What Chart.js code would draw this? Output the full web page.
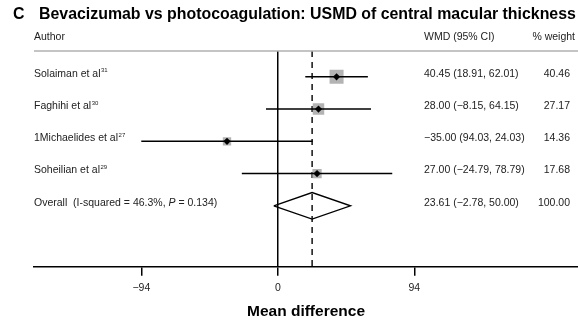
<!DOCTYPE html>
<html>
<head>
<meta charset="utf-8">
<script src="https://cdn.jsdelivr.net/npm/chart.js@4"></script>
<style>
  html, body { margin: 0; padding: 0; background: #fff; }
  canvas { display: block; }
</style>
</head>
<body>
<canvas id="forest" width="578" height="322"></canvas>
<script>
// Forest plot values.
const authors = ['Solaiman et al', 'Faghihi et al', '1Michaelides et al', 'Soheilian et al'];
const refNumbers = ['31', '30', '27', '29'];
const estimates = [40.45, 28.00, -35.00, 27.00];
const ciLow = [18.91, -8.15, -94.03, -24.79];
const ciHigh = [62.01, 64.15, 24.03, 78.79];
const ciText = ['40.45 (18.91, 62.01)', '28.00 (\u22128.15, 64.15)', '\u221235.00 (94.03, 24.03)', '27.00 (\u221224.79, 78.79)'];
const weights = [40.46, 27.17, 14.36, 17.68];

const overallLabel = 'Overall  (I-squared = 46.3%, ';
const overallP = '0.134';
const overallEst = 23.61;
const overallLow = -2.78;
const overallHigh = 50.00;
const overallText = '23.61 (\u22122.78, 50.00)';
const overallWeight = '100.00';

const xTicks = [-94, 0, 94];

const FONT = "'Liberation Sans', Arial, Helvetica, sans-serif";
Chart.defaults.font.family = FONT;

const Y_MIN = 0.2;
const Y_MAX = 6.89;
const overallRow = authors.length + 1;

// box area scales with study weight
function boxRadius(w) {
  return (2.2 * Math.sqrt(w)) / Math.SQRT2;
}

function minus(v) {
  return v < 0 ? '\u2212' + Math.abs(v) : String(v);
}

const ciDatasets = authors.map((name, i) => ({
  label: name,
  data: [{ x: ciLow[i], y: i + 1 }, { x: ciHigh[i], y: i + 1 }],
  showLine: true,
  borderColor: '#000',
  borderWidth: 1.5,
  pointRadius: 0,
  order: 2,
}));

// Text columns, header, divider -- not something Chart.js draws by itself.
const tablePlugin = {
  id: 'forestTable',
  afterDraw(chart) {
    const { ctx, chartArea, scales } = chart;
    const y = scales.y;
    ctx.save();

    ctx.fillStyle = '#000';
    ctx.textBaseline = 'alphabetic';
    ctx.font = `bold 15.9px ${FONT}`;
    ctx.textAlign = 'left';
    ctx.fillText('C', 13, 18.5);
    ctx.fillText('Bevacizumab vs photocoagulation: USMD of central macular thickness', 39, 18.5);

    ctx.textBaseline = 'middle';
    ctx.fillStyle = '#222';
    ctx.font = `10.5px ${FONT}`;
    ctx.fillText('Author', 34, 37);
    ctx.fillText('WMD (95% CI)', 424, 37);
    ctx.textAlign = 'right';
    ctx.fillText('% weight', 575, 37);

    ctx.strokeStyle = '#b0b0b0';
    ctx.lineWidth = 1.5;
    ctx.beginPath();
    ctx.moveTo(chartArea.left, chartArea.top);
    ctx.lineTo(chartArea.right, chartArea.top);
    ctx.stroke();

    authors.forEach((name, i) => {
      const py = y.getPixelForValue(i + 1) - 3;
      ctx.textAlign = 'left';
      ctx.font = `10.5px ${FONT}`;
      ctx.fillText(name, 34, py);
      const w = ctx.measureText(name).width;
      ctx.font = `6px ${FONT}`;
      ctx.fillText(refNumbers[i], 34 + w + 0.5, py - 3);
      ctx.font = `10.5px ${FONT}`;
      ctx.fillText(ciText[i], 424, py);
      ctx.textAlign = 'right';
      ctx.fillText(weights[i].toFixed(2), 570, py);
    });

    const oy = y.getPixelForValue(overallRow) - 3;
    ctx.textAlign = 'left';
    ctx.font = `10.5px ${FONT}`;
    ctx.fillText(overallLabel, 34, oy);
    let ox = 34 + ctx.measureText(overallLabel).width;
    ctx.font = `italic 10.5px ${FONT}`;
    ctx.fillText('P', ox, oy);
    ox += ctx.measureText('P').width;
    ctx.font = `10.5px ${FONT}`;
    ctx.fillText(' = ' + overallP + ')', ox, oy);
    ctx.fillText(overallText, 424, oy);
    ctx.textAlign = 'right';
    ctx.fillText(overallWeight, 570, oy);

    ctx.restore();
  },
};

new Chart(document.getElementById('forest'), {
  type: 'scatter',
  data: {
    datasets: [
      {
        label: 'points',
        data: estimates.map((x, i) => ({ x, y: i + 1 })),
        pointStyle: 'rectRot',
        pointRadius: 3.6,
        backgroundColor: '#000',
        borderColor: '#000',
        borderWidth: 0,
        order: 1,
      },
      ...ciDatasets,
      {
        label: 'boxes',
        data: estimates.map((x, i) => ({ x, y: i + 1 })),
        pointStyle: 'rect',
        pointRadius: (c) => boxRadius(weights[c.dataIndex]),
        backgroundColor: '#b3b3b3',
        borderWidth: 0,
        order: 3,
      },
      {
        label: 'overall line',
        data: [{ x: overallEst, y: Y_MIN }, { x: overallEst, y: Y_MAX }],
        showLine: true,
        borderColor: '#000',
        borderWidth: 1.4,
        borderDash: [6, 5],
        pointRadius: 0,
        order: 4,
      },
      {
        label: 'overall diamond',
        data: [
          { x: overallLow, y: overallRow },
          { x: overallEst, y: overallRow - 0.41 },
          { x: overallHigh, y: overallRow },
          { x: overallEst, y: overallRow + 0.41 },
          { x: overallLow, y: overallRow },
        ],
        showLine: true,
        fill: false,
        borderColor: '#000',
        borderWidth: 1.4,
        pointRadius: 0,
        order: 1,
      },
    ],
  },
  options: {
    responsive: false,
    animation: false,
    events: [],
    // autoPadding would reserve room for the big boxes on the right edge
    layout: { autoPadding: false, padding: { left: 34, right: 0, top: 51, bottom: 1 } },
    plugins: { legend: { display: false }, tooltip: { enabled: false } },
    scales: {
      x: {
        type: 'linear',
        min: -167.9,
        max: 206.7,
        afterBuildTicks: (axis) => {
          axis.ticks = xTicks.map((value) => ({ value }));
        },
        ticks: {
          font: { size: 10.5 },
          color: '#222',
          padding: 6,
          maxRotation: 0,
          callback: (v) => minus(v),
        },
        grid: {
          color: (c) => (c.tick && c.tick.value === 0 ? '#000' : 'rgba(0,0,0,0)'),
          lineWidth: 1.5,
          tickColor: '#000',
          tickWidth: 1.5,
          tickLength: 9,
        },
        border: { display: true, color: '#000', width: 1.5 },
        title: {
          display: true,
          text: 'Mean difference',
          color: '#000',
          font: { size: 15.5, weight: 'bold' },
          padding: { top: 2, bottom: 0 },
        },
      },
      y: {
        type: 'linear',
        display: false,
        reverse: true,
        min: Y_MIN,
        max: Y_MAX,
      },
    },
  },
  plugins: [tablePlugin],
});
</script>
</body>
</html>
